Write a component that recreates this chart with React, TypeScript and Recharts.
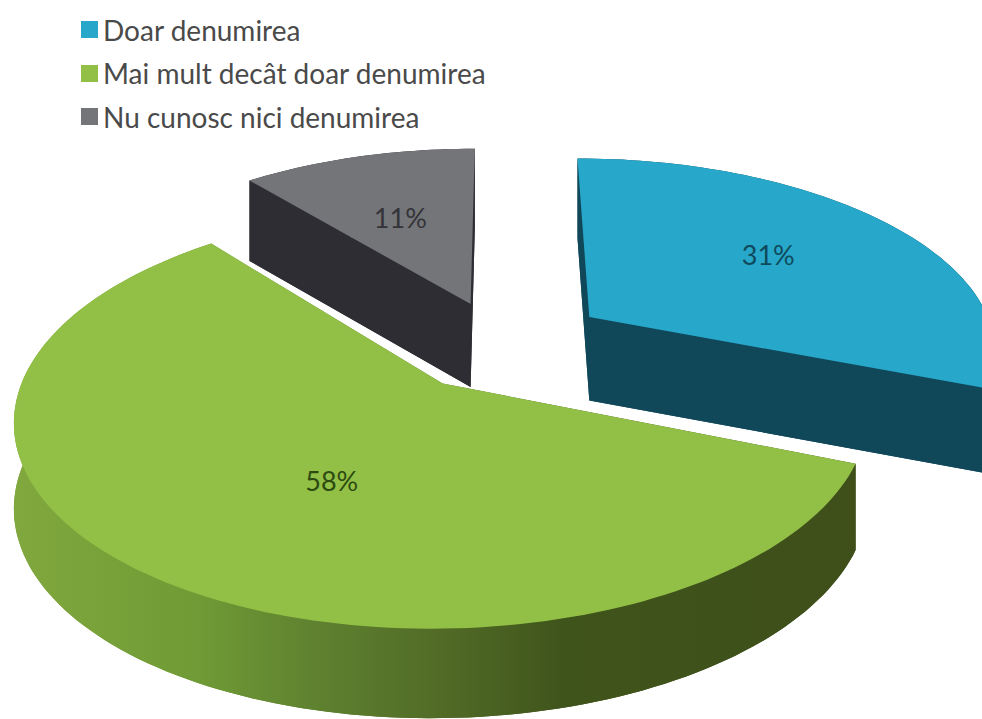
import { Cell, Legend, Pie, PieChart } from "recharts";

const categories = ["Doar denumirea", "Mai mult decât doar denumirea", "Nu cunosc nici denumirea"];
const shares = [31, 58, 11];

const topColors = ["#27a7c9", "#92c046", "#737578"];
const wallColors = ["#10485a", "url(#greenWall)", "#2e2d33"];
const labelColors = ["#0f4a5c", "#2d4a10", "#333338"];
const explode = [0.265, 0.24, 0.235];
const labelRadius = [0.55, 0.5, 0.52];
const labelNudge = [[10, -8], [26, 8], [-8, -5]];

const data = categories.map((name, i) => ({ name, value: shares[i] }));

const font = "Lato, 'Open Sans', sans-serif";
const squash = 0.471; // vertical flattening of the pie plane
const tilt = 0.16; // perspective, back of the plane shrinks
const rad = Math.PI / 180;

// plane coords (u right, v back, unit = outer radius) to screen
function project(cx: number, cy: number, r: number, u: number, v: number) {
  const w = 1 + tilt * v;
  return { x: cx + (r * u) / w, y: cy - (r * squash * v) / w, w };
}

function depthAt(w: number) {
  return 84 / Math.pow(w, 0.3);
}

function toPath(pts: { x: number; y: number }[]) {
  return "M" + pts.map((p) => `${p.x.toFixed(1)},${p.y.toFixed(1)}`).join("L") + "Z";
}

function Slice3D(props: any) {
  const { cx, cy, outerRadius, startAngle, endAngle, midAngle, index } = props;
  const ox = explode[index] * Math.cos(midAngle * rad);
  const oy = explode[index] * Math.sin(midAngle * rad);
  const at = (u: number, v: number) => project(cx, cy, outerRadius, u + ox, v + oy);
  const down = (p: { x: number; y: number; w: number }) => ({ x: p.x, y: p.y + depthAt(p.w), w: p.w });

  const apex = at(0, 0);
  const arc = [];
  const steps = Math.ceil(Math.abs(endAngle - startAngle) / 1.5);
  for (let s = 0; s <= steps; s++) {
    const a = (startAngle + ((endAngle - startAngle) * s) / steps) * rad;
    arc.push(at(Math.cos(a), Math.sin(a)));
  }
  const first = arc[0];
  const last = arc[arc.length - 1];
  const wall = wallColors[index];

  return (
    <g>
      <path d={toPath([apex, ...arc].map(down))} fill={wall} />
      <path d={toPath([apex, first, down(first), down(apex)])} fill={wall} />
      <path d={toPath([apex, last, down(last), down(apex)])} fill={wall} />
      <path d={toPath([...arc, ...arc.map(down).reverse()])} fill={wall} />
      <path d={toPath([apex, ...arc])} fill={topColors[index]} />
    </g>
  );
}

function SliceLabel(props: any) {
  const { cx, cy, outerRadius, midAngle, index } = props;
  const f = labelRadius[index];
  const u = (explode[index] + f) * Math.cos(midAngle * rad);
  const v = (explode[index] + f) * Math.sin(midAngle * rad);
  const p = project(cx, cy, outerRadius, u, v);
  return (
    <text
      x={p.x + labelNudge[index][0]}
      y={p.y + labelNudge[index][1]}
      fill={labelColors[index]}
      textAnchor="middle"
      dominantBaseline="central"
      fontFamily={font}
      fontSize={27}
    >
      {shares[index]}%
    </text>
  );
}

function LegendList() {
  return (
    <div style={{ fontFamily: font, fontSize: 28, color: "#4a4a4a", textAlign: "left", whiteSpace: "nowrap" }}>
      {categories.map((name, i) => (
        <div key={name} style={{ display: "flex", alignItems: "center", height: 43.5 }}>
          <span style={{ width: 17, height: 17, background: topColors[i], marginRight: 5 }} />
          {name}
        </div>
      ))}
    </div>
  );
}

export default function App() {
  return (
    <div style={{ position: "fixed", left: 0, top: 0, width: 982, height: 719, background: "#fff" }}>
      <PieChart width={982} height={719} margin={{ top: 0, right: 0, bottom: 0, left: 0 }}>
        <defs>
          <linearGradient id="greenWall" gradientUnits="userSpaceOnUse" x1="15" y1="0" x2="860" y2="0">
            <stop offset="0%" stopColor="#80a83e" />
            <stop offset="22%" stopColor="#6f9a35" />
            <stop offset="35%" stopColor="#5f8230" />
            <stop offset="50%" stopColor="#526c27" />
            <stop offset="65%" stopColor="#3f541b" />
            <stop offset="100%" stopColor="#3f4f1a" />
          </linearGradient>
        </defs>
        <Legend
          layout="vertical"
          align="center"
          verticalAlign="middle"
          wrapperStyle={{ left: 81, top: 8, width: 500 }}
          content={<LegendList />}
        />
        <Pie
          data={data}
          dataKey="value"
          nameKey="name"
          cx={502}
          cy={345}
          innerRadius={0}
          outerRadius={408}
          startAngle={90}
          endAngle={-270}
          stroke="none"
          isAnimationActive={false}
          labelLine={false}
          label={SliceLabel}
          shape={Slice3D}
        >
          {data.map((_, i) => (
            <Cell key={i} fill={topColors[i]} />
          ))}
        </Pie>
      </PieChart>
    </div>
  );
}
